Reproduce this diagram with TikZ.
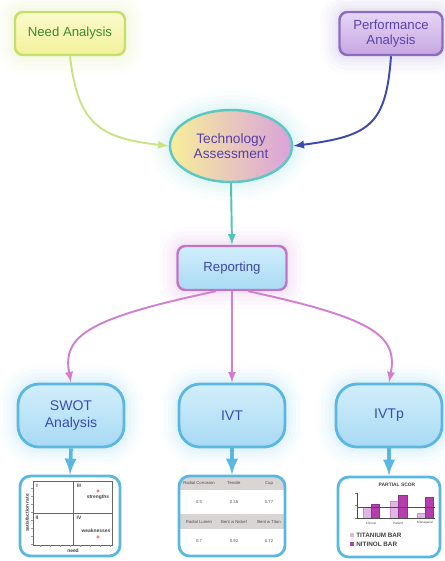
\documentclass[tikz,border=0pt]{standalone}
\usepackage{fontspec}
\setmainfont{Liberation Sans}
\usetikzlibrary{shapes.geometric}

\definecolor{needline}{HTML}{C5DF6A}
\definecolor{needtop}{HTML}{FBFBCC}
\definecolor{needbot}{HTML}{F2F09A}
\definecolor{needtext}{HTML}{3D8C2F}
\definecolor{needarrow}{HTML}{CBE383}
\definecolor{perfline}{HTML}{8A6CC0}
\definecolor{perftop}{HTML}{E6D6F6}
\definecolor{perfbot}{HTML}{C6A6E0}
\definecolor{perftext}{HTML}{5C44A8}
\definecolor{perfarrow}{HTML}{3C4AB2}
\definecolor{techline}{HTML}{5CC8C4}
\definecolor{techleft}{HTML}{F8EE9C}
\definecolor{techright}{HTML}{D9A2DA}
\definecolor{techtext}{HTML}{5840A8}
\definecolor{tealarrow}{HTML}{52C4BC}
\definecolor{repline}{HTML}{C474C4}
\definecolor{reptop}{HTML}{D2EEFB}
\definecolor{repbot}{HTML}{A8DAF4}
\definecolor{reptext}{HTML}{3C48A8}
\definecolor{pinkarrow}{HTML}{D27ED2}
\definecolor{toolline}{HTML}{5AB8E0}
\definecolor{tooltext}{HTML}{3A4CB4}
\definecolor{bandgray}{HTML}{D9D5D5}
\definecolor{tibar}{HTML}{DDB6E6}
\definecolor{nibar}{HTML}{B63DAE}

\tikzset{
  glow/.style={preaction={draw=#1, draw opacity=.025, line width=22pt},
               preaction={draw=#1, draw opacity=.03, line width=17pt},
               preaction={draw=#1, draw opacity=.035, line width=12pt},
               preaction={draw=#1, draw opacity=.04, line width=8pt},
               preaction={draw=#1, draw opacity=.05, line width=4.5pt}},
  topbox/.style={rectangle, rounded corners=4.5pt, line width=1.4pt, align=center,
                 inner sep=2pt, font=\fontsize{7.5}{8.6}\selectfont},
  toolbox/.style={rectangle, rounded corners=12pt, line width=1.6pt, align=center,
                  draw=toolline, top color=reptop, bottom color=repbot, text=tooltext,
                  glow=toolline, minimum width=2.12cm, minimum height=1.26cm,
                  font=\fontsize{8}{9.6}\selectfont},
  thumb/.style={rectangle, rounded corners=6pt, line width=1.6pt, draw=toolline,
                minimum height=1.6cm},
  link/.style={line width=1.1pt, ->},
  drop/.style={line width=2.1pt, ->, toolline},
  tiny/.style={inner sep=0pt, font=\fontsize{2.8}{3}\selectfont\bfseries, text=black!75},
  cell/.style={inner sep=0pt, font=\fontsize{2.4}{3}\selectfont, text=black!70}
}

\begin{document}
\begin{tikzpicture}[x=0.02cm, y=-0.02cm, >=latex]
\useasboundingbox (0,0) rectangle (444,561);

% top row
\node[topbox, draw=needline, top color=needtop, bottom color=needbot, text=needtext,
      glow=needline, minimum width=2.2cm, minimum height=0.86cm] (need) at (70,33.5) {Need Analysis};
\node[topbox, draw=perfline, top color=perftop, bottom color=perfbot, text=perftext,
      glow=perfline, minimum width=2.06cm, minimum height=0.86cm] (perf) at (391,33.5) {Performance\\Analysis};

% centre
\node[ellipse, draw=techline, line width=1.4pt, left color=techleft, right color=techright,
      text=techtext, glow=techline, minimum width=2.36cm, minimum height=1.44cm, align=center,
      font=\fontsize{7.8}{8.8}\selectfont] (tech) at (231,146) {Technology\\Assessment};
\node[topbox, draw=repline, top color=reptop, bottom color=repbot, text=reptext,
      glow=repline, minimum width=2.18cm, minimum height=0.88cm] (report) at (232,268) {Reporting};

% tools
\node[toolbox] (swot) at (71,415.5) {SWOT\\Analysis};
\node[toolbox] (ivt) at (232,415.5) {IVT};
\node[toolbox] (ivtp) at (389,415.5) {IVTp};

% connectors
\draw[link, needarrow] (need.south) .. controls (78,125) and (100,138) .. (tech.west);
\draw[link, perfarrow] (perf.south) .. controls (386,125) and (370,136) .. (tech.east);
\draw[link, tealarrow] (tech.south) -- (report.north);
\draw[link, pinkarrow] (report.235) .. controls (90,318) and (62,335) .. (swot.north);
\draw[link, pinkarrow] (report.south) -- (ivt.north);
\draw[link, pinkarrow] (report.305) .. controls (372,318) and (398,335) .. (ivtp.north);

% IVT table bands
\begin{scope}
  \clip[rounded corners=6pt] (179,476) rectangle (285,556);
  \fill[bandgray] (179,476) rectangle (285,490);
  \fill[bandgray] (179,514) rectangle (285,529);
\end{scope}

% thumbnails
\node[thumb, minimum width=2cm] (swotthumb) at (70,516) {};
\node[thumb, minimum width=2.12cm] (ivtthumb) at (232,516) {};
\node[thumb, minimum width=2.04cm] (ivtpthumb) at (389,517) {};

\draw[drop] (swot.south) -- (swotthumb.north);
\draw[drop] (ivt.south) -- (ivtthumb.north);
\draw[drop] (ivtp.south) -- (ivtpthumb.north);

% SWOT chart
\draw[black!60, line width=0.3pt] (33,481) rectangle (112,545);
\draw[black!60, line width=0.3pt] (73,481) -- (73,545) (33,513) -- (112,513);
\foreach \t in {488,496,...,544} \draw[black!40, line width=0.2pt] (33,\t) -- (31,\t);
\foreach \t in {40,50,...,110} \draw[black!40, line width=0.2pt] (\t,545) -- (\t,547);
\node[tiny] (qone) at (37,486) {I};
\node[tiny] (qthree) at (79,486) {III};
\node[tiny] (qtwo) at (37,518) {II};
\node[tiny] (qfour) at (79,518) {IV};
\node[tiny] (strong) at (98,497) {strengths};
\node[tiny] (weak) at (96,531) {weaknesses};
\draw[red!70, line width=0.3pt] (98,491) circle (1.3);
\draw[red!70, line width=0.3pt] (98,537) circle (1.3);
\node[tiny, rotate=90] (satis) at (27,513) {satisfaction rate};
\node[tiny] (needlab) at (73,551) {need};

% IVT table
\node[cell] (ha) at (199,483) {Radial Corrosion};
\node[cell] (hb) at (234,483) {Tensile};
\node[cell] (hc) at (269,483) {Cup};
\node[cell] (va) at (199,502) {0.5};
\node[cell] (vb) at (234,502) {0.35};
\node[cell] (vc) at (269,502) {0.77};
\node[cell] (hd) at (199,521.5) {Radial Lumen};
\node[cell] (he) at (234,521.5) {Bent w Nickel};
\node[cell] (hf) at (269,521.5) {Bent w Titan};
\node[cell] (vd) at (199,541) {0.7};
\node[cell] (ve) at (234,541) {0.92};
\node[cell] (vf) at (269,541) {0.72};

% IVTp chart
\node[tiny] (ptitle) at (397,485) {PARTIAL SCOR};
\fill[tibar, draw=nibar!60, line width=0.2pt] (363,507) rectangle (371,518);
\fill[nibar, draw=nibar!80!black, line width=0.2pt] (371,504) rectangle (379,518);
\fill[tibar, draw=nibar!60, line width=0.2pt] (390,501) rectangle (398,518);
\fill[nibar, draw=nibar!80!black, line width=0.2pt] (398,495) rectangle (407,518);
\fill[tibar, draw=nibar!60, line width=0.2pt] (417,513) rectangle (425,518);
\fill[nibar, draw=nibar!80!black, line width=0.2pt] (425,497) rectangle (433,518);
\draw[black!70, line width=0.3pt] (357,493) -- (357,518) -- (435,518);
\draw[black!70, line width=0.3pt] (357,507) -- (435,507);
\foreach \t in {493,505,518} \draw[black!50, line width=0.2pt] (357,\t) -- (355,\t);
\node[cell, font=\fontsize{1.8}{2}\selectfont] (ca) at (371,523) {Clinical};
\node[cell, font=\fontsize{1.8}{2}\selectfont] (cb) at (398,523) {Patient};
\node[cell, font=\fontsize{1.8}{2}\selectfont] (cc) at (425,523) {Managerial};
\fill[tibar] (350,533) rectangle (354,537);
\node[tiny, anchor=west, font=\fontsize{3.6}{4}\selectfont\bfseries] (lega) at (356,535) {TITANIUM BAR};
\fill[nibar] (350,542) rectangle (354,546);
\node[tiny, anchor=west, font=\fontsize{3.6}{4}\selectfont\bfseries] (legb) at (356,544) {NITINOL BAR};
\end{tikzpicture}
\end{document}
